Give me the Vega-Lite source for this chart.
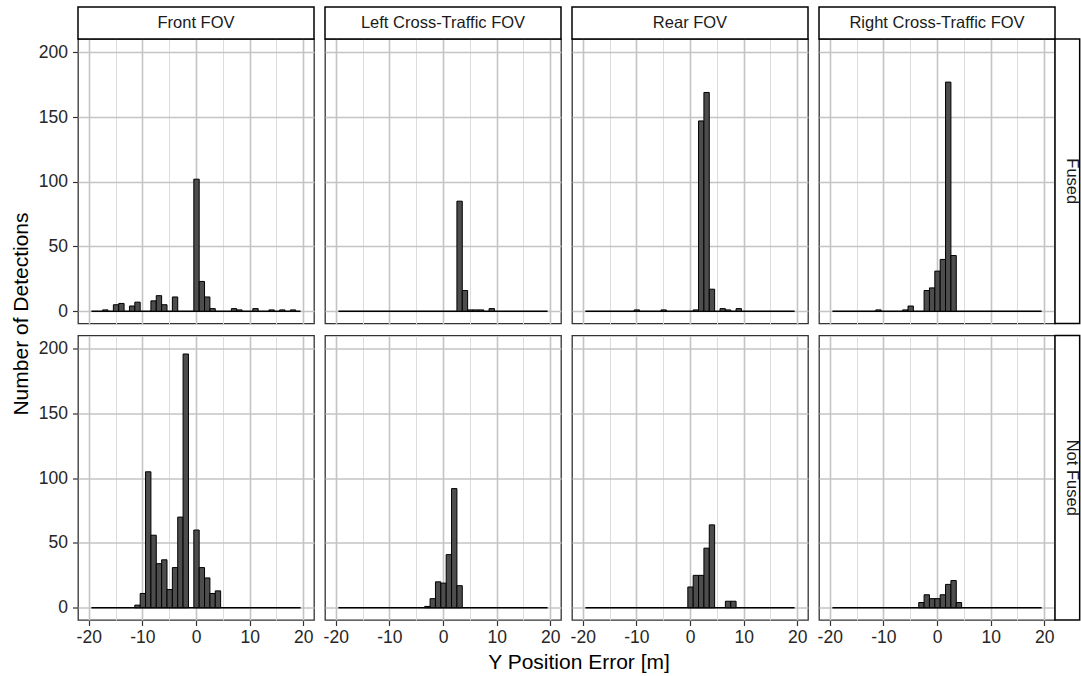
{
  "$schema": "https://vega.github.io/schema/vega-lite/v6.json",
  "background": "white",
  "padding": {"left": 10, "top": 5, "right": 0, "bottom": 2},
  "data": {"values": [
    {"fov": "Front FOV", "fused": "Fused", "err": -17, "n": 1},
    {"fov": "Front FOV", "fused": "Fused", "err": -15, "n": 5},
    {"fov": "Front FOV", "fused": "Fused", "err": -14, "n": 6},
    {"fov": "Front FOV", "fused": "Fused", "err": -12, "n": 4},
    {"fov": "Front FOV", "fused": "Fused", "err": -11, "n": 7},
    {"fov": "Front FOV", "fused": "Fused", "err": -8, "n": 8},
    {"fov": "Front FOV", "fused": "Fused", "err": -7, "n": 12},
    {"fov": "Front FOV", "fused": "Fused", "err": -6, "n": 5},
    {"fov": "Front FOV", "fused": "Fused", "err": -4, "n": 11},
    {"fov": "Front FOV", "fused": "Fused", "err": 0, "n": 102},
    {"fov": "Front FOV", "fused": "Fused", "err": 1, "n": 23},
    {"fov": "Front FOV", "fused": "Fused", "err": 2, "n": 11},
    {"fov": "Front FOV", "fused": "Fused", "err": 3, "n": 2},
    {"fov": "Front FOV", "fused": "Fused", "err": 7, "n": 2},
    {"fov": "Front FOV", "fused": "Fused", "err": 8, "n": 1},
    {"fov": "Front FOV", "fused": "Fused", "err": 11, "n": 2},
    {"fov": "Front FOV", "fused": "Fused", "err": 14, "n": 1},
    {"fov": "Front FOV", "fused": "Fused", "err": 16, "n": 1},
    {"fov": "Front FOV", "fused": "Fused", "err": 18, "n": 1},
    {"fov": "Left Cross-Traffic FOV", "fused": "Fused", "err": 3, "n": 85},
    {"fov": "Left Cross-Traffic FOV", "fused": "Fused", "err": 4, "n": 16},
    {"fov": "Left Cross-Traffic FOV", "fused": "Fused", "err": 5, "n": 1},
    {"fov": "Left Cross-Traffic FOV", "fused": "Fused", "err": 6, "n": 1},
    {"fov": "Left Cross-Traffic FOV", "fused": "Fused", "err": 7, "n": 1},
    {"fov": "Left Cross-Traffic FOV", "fused": "Fused", "err": 9, "n": 2},
    {"fov": "Rear FOV", "fused": "Fused", "err": -10, "n": 1},
    {"fov": "Rear FOV", "fused": "Fused", "err": -5, "n": 1},
    {"fov": "Rear FOV", "fused": "Fused", "err": 1, "n": 1},
    {"fov": "Rear FOV", "fused": "Fused", "err": 2, "n": 147},
    {"fov": "Rear FOV", "fused": "Fused", "err": 3, "n": 169},
    {"fov": "Rear FOV", "fused": "Fused", "err": 4, "n": 17},
    {"fov": "Rear FOV", "fused": "Fused", "err": 6, "n": 2},
    {"fov": "Rear FOV", "fused": "Fused", "err": 7, "n": 1},
    {"fov": "Rear FOV", "fused": "Fused", "err": 9, "n": 2},
    {"fov": "Right Cross-Traffic FOV", "fused": "Fused", "err": -11, "n": 1},
    {"fov": "Right Cross-Traffic FOV", "fused": "Fused", "err": -6, "n": 1},
    {"fov": "Right Cross-Traffic FOV", "fused": "Fused", "err": -5, "n": 4},
    {"fov": "Right Cross-Traffic FOV", "fused": "Fused", "err": -2, "n": 16},
    {"fov": "Right Cross-Traffic FOV", "fused": "Fused", "err": -1, "n": 18},
    {"fov": "Right Cross-Traffic FOV", "fused": "Fused", "err": 0, "n": 31},
    {"fov": "Right Cross-Traffic FOV", "fused": "Fused", "err": 1, "n": 40},
    {"fov": "Right Cross-Traffic FOV", "fused": "Fused", "err": 2, "n": 177},
    {"fov": "Right Cross-Traffic FOV", "fused": "Fused", "err": 3, "n": 43},
    {"fov": "Front FOV", "fused": "Not Fused", "err": -11, "n": 2},
    {"fov": "Front FOV", "fused": "Not Fused", "err": -10, "n": 11},
    {"fov": "Front FOV", "fused": "Not Fused", "err": -9, "n": 105},
    {"fov": "Front FOV", "fused": "Not Fused", "err": -8, "n": 56},
    {"fov": "Front FOV", "fused": "Not Fused", "err": -7, "n": 34},
    {"fov": "Front FOV", "fused": "Not Fused", "err": -6, "n": 37},
    {"fov": "Front FOV", "fused": "Not Fused", "err": -5, "n": 14},
    {"fov": "Front FOV", "fused": "Not Fused", "err": -4, "n": 31},
    {"fov": "Front FOV", "fused": "Not Fused", "err": -3, "n": 70},
    {"fov": "Front FOV", "fused": "Not Fused", "err": -2, "n": 196},
    {"fov": "Front FOV", "fused": "Not Fused", "err": 0, "n": 60},
    {"fov": "Front FOV", "fused": "Not Fused", "err": 1, "n": 31},
    {"fov": "Front FOV", "fused": "Not Fused", "err": 2, "n": 23},
    {"fov": "Front FOV", "fused": "Not Fused", "err": 3, "n": 11},
    {"fov": "Front FOV", "fused": "Not Fused", "err": 4, "n": 13},
    {"fov": "Left Cross-Traffic FOV", "fused": "Not Fused", "err": -3, "n": 1},
    {"fov": "Left Cross-Traffic FOV", "fused": "Not Fused", "err": -2, "n": 7},
    {"fov": "Left Cross-Traffic FOV", "fused": "Not Fused", "err": -1, "n": 20},
    {"fov": "Left Cross-Traffic FOV", "fused": "Not Fused", "err": 0, "n": 19},
    {"fov": "Left Cross-Traffic FOV", "fused": "Not Fused", "err": 1, "n": 41},
    {"fov": "Left Cross-Traffic FOV", "fused": "Not Fused", "err": 2, "n": 92},
    {"fov": "Left Cross-Traffic FOV", "fused": "Not Fused", "err": 3, "n": 17},
    {"fov": "Rear FOV", "fused": "Not Fused", "err": 0, "n": 16},
    {"fov": "Rear FOV", "fused": "Not Fused", "err": 1, "n": 25},
    {"fov": "Rear FOV", "fused": "Not Fused", "err": 2, "n": 25},
    {"fov": "Rear FOV", "fused": "Not Fused", "err": 3, "n": 46},
    {"fov": "Rear FOV", "fused": "Not Fused", "err": 4, "n": 64},
    {"fov": "Rear FOV", "fused": "Not Fused", "err": 7, "n": 5},
    {"fov": "Rear FOV", "fused": "Not Fused", "err": 8, "n": 5},
    {"fov": "Right Cross-Traffic FOV", "fused": "Not Fused", "err": -3, "n": 4},
    {"fov": "Right Cross-Traffic FOV", "fused": "Not Fused", "err": -2, "n": 10},
    {"fov": "Right Cross-Traffic FOV", "fused": "Not Fused", "err": -1, "n": 7},
    {"fov": "Right Cross-Traffic FOV", "fused": "Not Fused", "err": 0, "n": 7},
    {"fov": "Right Cross-Traffic FOV", "fused": "Not Fused", "err": 1, "n": 10},
    {"fov": "Right Cross-Traffic FOV", "fused": "Not Fused", "err": 2, "n": 18},
    {"fov": "Right Cross-Traffic FOV", "fused": "Not Fused", "err": 3, "n": 21},
    {"fov": "Right Cross-Traffic FOV", "fused": "Not Fused", "err": 4, "n": 4}
  ]},
  "facet": {
    "column": {"field": "fov", "type": "nominal", "sort": ["Front FOV", "Left Cross-Traffic FOV", "Rear FOV", "Right Cross-Traffic FOV"],
      "header": {"labels": false, "title": "Y Position Error [m]", "titleOrient": "bottom", "titleFont": "Liberation Sans", "titleFontSize": 21, "titleFontWeight": "normal", "titleColor": "#000000", "titlePadding": -4, "titleBaseline": "top"}},
    "row": {"field": "fused", "type": "nominal", "sort": ["Fused", "Not Fused"],
      "header": {"labels": false, "title": "Number of Detections", "titleOrient": "left", "titleFont": "Liberation Sans", "titleFontSize": 21, "titleFontWeight": "normal", "titleColor": "#000000", "titlePadding": -4}}
  },
  "spacing": {"row": 11.5, "column": 11},
  "bounds": "flush",
  "spec": {
    "width": 236,
    "height": 284.5,
    "layer": [
      {
        "transform": [{"aggregate": [{"op": "count", "as": "k"}], "groupby": ["fov", "fused"]}],
        "mark": {"type": "rule", "stroke": "black", "strokeWidth": 1.6},
        "encoding": {
          "x": {"datum": -19.5, "type": "quantitative"},
          "x2": {"datum": 19.5},
          "y": {"datum": 0, "type": "quantitative"}
        }
      },
      {
        "mark": {"type": "bar", "fill": "#4d4d4d", "stroke": "black", "strokeWidth": 1, "binSpacing": 0},
        "encoding": {
          "x": {
            "field": "err", "type": "quantitative",
            "bin": {"step": 1, "anchor": -19.5, "extent": [-19.5, 19.5], "nice": false},
            "scale": {"domain": [-22, 22], "nice": false, "zero": false},
            "title": null,
            "axis": {
              "grid": true,
              "values": [-20, -15, -10, -5, 0, 5, 10, 15, 20],
              "labelExpr": "datum.value % 10 === 0 ? '' + datum.value : ''",
              "labelOverlap": false,
              "labelPadding": 3,
              "tickOpacity": {"condition": {"test": "datum.value % 10 !== 0", "value": 0}, "value": 1},
              "gridColor": {"condition": {"test": "datum.value % 10 !== 0", "value": "#dcdcdc"}, "value": "#c4c4c4"},
              "gridWidth": {"condition": {"test": "datum.value % 10 !== 0", "value": 1}, "value": 1.6}
            }
          },
          "y": {
            "field": "n", "type": "quantitative", "aggregate": "sum",
            "scale": {"domain": [-9.5, 210.3], "nice": false, "zero": false},
            "title": null,
            "axis": {
              "grid": true,
              "values": [0, 25, 50, 75, 100, 125, 150, 175, 200],
              "labelExpr": "datum.value % 50 === 0 ? '' + datum.value : ''",
              "labelOverlap": false,
              "labelPadding": 5,
              "tickOpacity": {"condition": {"test": "datum.value % 50 !== 0", "value": 0}, "value": 1},
              "gridColor": {"condition": {"test": "datum.value % 50 !== 0", "value": "#dcdcdc"}, "value": "#c4c4c4"},
              "gridWidth": {"condition": {"test": "datum.value % 50 !== 0", "value": 1}, "value": 1.6}
            }
          }
        }
      },
      {
        "transform": [
          {"filter": "datum.fused === 'Fused'"},
          {"aggregate": [{"op": "count", "as": "k"}], "groupby": ["fov", "fused"]}
        ],
        "layer": [
          {
            "mark": {"type": "rect", "fill": "white", "stroke": "black", "strokeWidth": 1.5},
            "encoding": {
              "x": {"datum": -22, "type": "quantitative"},
              "x2": {"datum": 22},
              "y": {"datum": 210.3, "type": "quantitative"},
              "y2": {"datum": 235}
            }
          },
          {
            "mark": {"type": "text", "font": "Liberation Sans", "fontSize": 16.5, "color": "#1a1a1a", "baseline": "middle", "align": "center"},
            "encoding": {
              "x": {"datum": 0, "type": "quantitative"},
              "y": {"datum": 222.7, "type": "quantitative"},
              "text": {"field": "fov"}
            }
          }
        ]
      },
      {
        "transform": [
          {"filter": "datum.fov === 'Right Cross-Traffic FOV'"},
          {"aggregate": [{"op": "count", "as": "k"}], "groupby": ["fov", "fused"]}
        ],
        "layer": [
          {
            "mark": {"type": "rect", "fill": "white", "stroke": "black", "strokeWidth": 1.5},
            "encoding": {
              "x": {"datum": 22, "type": "quantitative"},
              "x2": {"datum": 26.6},
              "y": {"datum": -9.5, "type": "quantitative"},
              "y2": {"datum": 210.3}
            }
          },
          {
            "mark": {"type": "text", "font": "Liberation Sans", "fontSize": 16.5, "color": "#1a1a1a", "baseline": "middle", "align": "center", "angle": 90},
            "encoding": {
              "x": {"datum": 25.1, "type": "quantitative"},
              "y": {"datum": 100.4, "type": "quantitative"},
              "text": {"field": "fused"}
            }
          }
        ]
      }
    ]
  },
  "config": {
    "font": "Liberation Sans",
    "view": {"stroke": "#333333", "strokeWidth": 1.3},
    "axis": {
      "domain": false,
      "grid": true,
      "tickColor": "#333333",
      "tickWidth": 1.2,
      "tickSize": 5.5,
      "labelFont": "Liberation Sans",
      "labelFontSize": 17.5,
      "labelColor": "#262626"
    }
  }
}
